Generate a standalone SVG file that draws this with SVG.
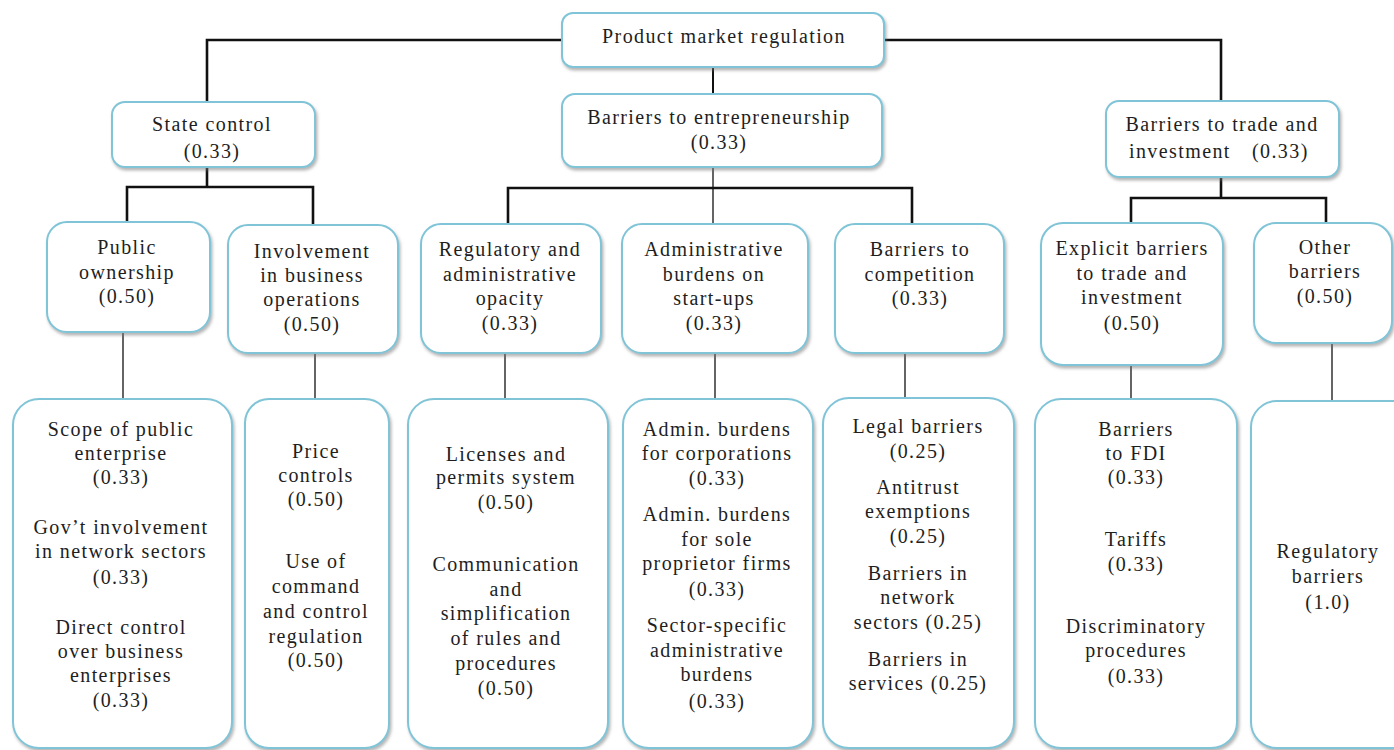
<svg xmlns="http://www.w3.org/2000/svg" width="1394" height="750" viewBox="0 0 1394 750">
<defs>
<filter id="sh" x="-10%" y="-10%" width="120%" height="125%">
<feDropShadow dx="1.5" dy="2.5" stdDeviation="1.5" flood-color="#777" flood-opacity="0.55"/>
</filter>
</defs>
<style>
.box{fill:#fff;stroke:#80c4d8;stroke-width:2;filter:url(#sh)}
text{font-family:'Liberation Serif',serif;font-size:20px;fill:#1e1e1e;text-anchor:middle;letter-spacing:1.4px}
.thick{fill:none;stroke:#111;stroke-width:2.6}
.mid{fill:none;stroke:#111;stroke-width:2}
.thin{fill:none;stroke:#111;stroke-width:1.3}
</style>
<rect width="1394" height="750" fill="#fff"/>
<g id="connectors">
<polyline class="thick" points="562,40 207,40 207,102"/>
<polyline class="thick" points="884,40 1221,40 1221,101"/>
<line class="mid" x1="713" y1="67" x2="713" y2="94"/>
<line class="thick" x1="207" y1="167" x2="207" y2="187"/>
<polyline class="thick" points="127,222 127,187 313,187 313,225"/>
<line class="thin" x1="713" y1="167" x2="713" y2="224"/>
<polyline class="thick" points="508,224 508,188 912,188 912,224"/>
<line class="thick" x1="1221" y1="177" x2="1221" y2="198"/>
<polyline class="thick" points="1131,223 1131,198 1326,198 1326,223"/>
<line class="thin" x1="123" y1="332" x2="123" y2="399"/>
<line class="thin" x1="315" y1="353" x2="315" y2="399"/>
<line class="thin" x1="505" y1="353" x2="505" y2="399"/>
<line class="thin" x1="715" y1="353" x2="715" y2="399"/>
<line class="thin" x1="905" y1="353" x2="905" y2="398"/>
<line class="thin" x1="1131" y1="365" x2="1131" y2="399"/>
<line class="thin" x1="1332" y1="343" x2="1332" y2="401"/>
</g>
<g id="root">
<rect class="box" x="562" y="13" width="322" height="54" rx="11"/>
<text x="724" y="43" font-family="Liberation Serif, serif">Product market regulation</text>
</g>
<g id="state-control">
<rect class="box" x="112" y="102" width="203" height="65" rx="13"/>
<text font-family="Liberation Serif, serif"><tspan x="212" y="131">State control</tspan><tspan x="212" y="158">(0.33)</tspan></text>
</g>
<g id="barriers-entrepreneurship">
<rect class="box" x="562" y="94" width="320" height="73" rx="13"/>
<text font-family="Liberation Serif, serif"><tspan x="719" y="124">Barriers to entrepreneurship</tspan><tspan x="719" y="149">(0.33)</tspan></text>
</g>
<g id="barriers-trade">
<rect class="box" x="1106" y="101" width="233" height="76" rx="13"/>
<text font-family="Liberation Serif, serif"><tspan x="1222" y="131">Barriers to trade and</tspan></text>
<text font-family="Liberation Serif, serif" style="text-anchor:start"><tspan x="1129" y="158">investment</tspan><tspan x="1252" y="158">(0.33)</tspan></text>
</g>
<g id="public-ownership">
<rect class="box" x="47" y="222" width="163" height="110" rx="20"/>
<text font-family="Liberation Serif, serif"><tspan x="127" y="254">Public</tspan><tspan x="127" y="279">ownership</tspan><tspan x="127" y="303">(0.50)</tspan></text>
</g>
<g id="involvement">
<rect class="box" x="228" y="225" width="170" height="128" rx="20"/>
<text font-family="Liberation Serif, serif"><tspan x="312" y="258">Involvement</tspan><tspan x="312" y="282">in business</tspan><tspan x="312" y="306">operations</tspan><tspan x="312" y="331">(0.50)</tspan></text>
</g>
<g id="regulatory-opacity">
<rect class="box" x="421" y="224" width="180" height="129" rx="20"/>
<text font-family="Liberation Serif, serif"><tspan x="510" y="256">Regulatory and</tspan><tspan x="510" y="281">administrative</tspan><tspan x="510" y="305">opacity</tspan><tspan x="510" y="330">(0.33)</tspan></text>
</g>
<g id="admin-burdens-startups">
<rect class="box" x="622" y="224" width="186" height="129" rx="20"/>
<text font-family="Liberation Serif, serif"><tspan x="714" y="256">Administrative</tspan><tspan x="714" y="281">burdens on</tspan><tspan x="714" y="305">start-ups</tspan><tspan x="714" y="330">(0.33)</tspan></text>
</g>
<g id="barriers-competition">
<rect class="box" x="835" y="224" width="169" height="129" rx="20"/>
<text font-family="Liberation Serif, serif"><tspan x="920" y="256">Barriers to</tspan><tspan x="920" y="281">competition</tspan><tspan x="920" y="305">(0.33)</tspan></text>
</g>
<g id="explicit-barriers">
<rect class="box" x="1041" y="223" width="182" height="142" rx="22"/>
<text font-family="Liberation Serif, serif"><tspan x="1132" y="255">Explicit barriers</tspan><tspan x="1132" y="280">to trade and</tspan><tspan x="1132" y="304">investment</tspan><tspan x="1132" y="330">(0.50)</tspan></text>
</g>
<g id="other-barriers">
<rect class="box" x="1254" y="223" width="138" height="120" rx="22"/>
<text font-family="Liberation Serif, serif"><tspan x="1325" y="254">Other</tspan><tspan x="1325" y="278">barriers</tspan><tspan x="1325" y="303">(0.50)</tspan></text>
</g>
<g id="state-enterprise-items">
<rect class="box" x="13" y="399" width="219" height="349" rx="26"/>
<text font-family="Liberation Serif, serif"><tspan x="121" y="436">Scope of public</tspan><tspan x="121" y="460">enterprise</tspan><tspan x="121" y="484">(0.33)</tspan><tspan x="121" y="534">Gov’t involvement</tspan><tspan x="121" y="558">in network sectors</tspan><tspan x="121" y="584">(0.33)</tspan><tspan x="121" y="634">Direct control</tspan><tspan x="121" y="658">over business</tspan><tspan x="121" y="682">enterprises</tspan><tspan x="121" y="707">(0.33)</tspan></text>
</g>
<g id="price-control-items">
<rect class="box" x="245" y="399" width="144" height="349" rx="24"/>
<text font-family="Liberation Serif, serif"><tspan x="316" y="458">Price</tspan><tspan x="316" y="482">controls</tspan><tspan x="316" y="506">(0.50)</tspan><tspan x="316" y="568">Use of</tspan><tspan x="316" y="593">command</tspan><tspan x="316" y="618">and control</tspan><tspan x="316" y="643">regulation</tspan><tspan x="316" y="667">(0.50)</tspan></text>
</g>
<g id="licenses-items">
<rect class="box" x="408" y="399" width="200" height="349" rx="26"/>
<text font-family="Liberation Serif, serif"><tspan x="506" y="461">Licenses and</tspan><tspan x="506" y="484">permits system</tspan><tspan x="506" y="509">(0.50)</tspan><tspan x="506" y="571">Communication</tspan><tspan x="506" y="596">and</tspan><tspan x="506" y="620">simplification</tspan><tspan x="506" y="645">of rules and</tspan><tspan x="506" y="670">procedures</tspan><tspan x="506" y="695">(0.50)</tspan></text>
</g>
<g id="admin-burden-items">
<rect class="box" x="623" y="399" width="190" height="349" rx="26"/>
<text font-family="Liberation Serif, serif"><tspan x="717" y="436">Admin. burdens</tspan><tspan x="717" y="460">for corporations</tspan><tspan x="717" y="485">(0.33)</tspan><tspan x="717" y="521">Admin. burdens</tspan><tspan x="717" y="546">for sole</tspan><tspan x="717" y="570">proprietor firms</tspan><tspan x="717" y="596">(0.33)</tspan><tspan x="717" y="632">Sector-specific</tspan><tspan x="717" y="657">administrative</tspan><tspan x="717" y="681">burdens</tspan><tspan x="717" y="708">(0.33)</tspan></text>
</g>
<g id="competition-items">
<rect class="box" x="823" y="398" width="191" height="350" rx="26"/>
<text font-family="Liberation Serif, serif"><tspan x="918" y="433">Legal barriers</tspan><tspan x="918" y="458">(0.25)</tspan><tspan x="918" y="494">Antitrust</tspan><tspan x="918" y="518">exemptions</tspan><tspan x="918" y="543">(0.25)</tspan><tspan x="918" y="580">Barriers in</tspan><tspan x="918" y="604">network</tspan><tspan x="918" y="629">sectors (0.25)</tspan><tspan x="918" y="666">Barriers in</tspan><tspan x="918" y="690">services (0.25)</tspan></text>
</g>
<g id="trade-items">
<rect class="box" x="1035" y="399" width="202" height="349" rx="26"/>
<text font-family="Liberation Serif, serif"><tspan x="1136" y="436">Barriers</tspan><tspan x="1136" y="460">to FDI</tspan><tspan x="1136" y="484">(0.33)</tspan><tspan x="1136" y="546">Tariffs</tspan><tspan x="1136" y="571">(0.33)</tspan><tspan x="1136" y="633">Discriminatory</tspan><tspan x="1136" y="657">procedures</tspan><tspan x="1136" y="683">(0.33)</tspan></text>
</g>
<g id="regulatory-items">
<rect class="box" x="1251" y="401" width="170" height="347" rx="26"/>
<text font-family="Liberation Serif, serif"><tspan x="1328" y="558">Regulatory</tspan><tspan x="1328" y="583">barriers</tspan><tspan x="1328" y="609">(1.0)</tspan></text>
</g>
</svg>
